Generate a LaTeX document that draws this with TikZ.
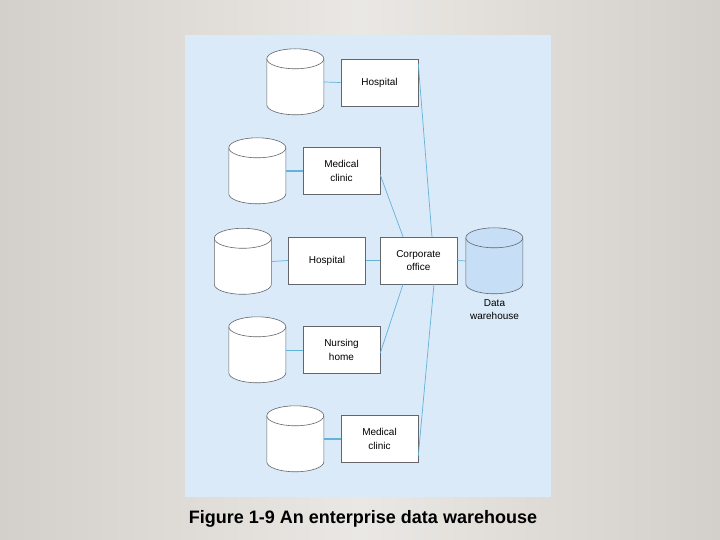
\documentclass[tikz,border=0pt]{standalone}
\usepackage{fontspec}
\setmainfont{Liberation Sans}
\usetikzlibrary{positioning, shadows}
\definecolor{panel}{HTML}{DBEAF8}
\definecolor{link}{HTML}{62B2DA}
\definecolor{dwfill}{HTML}{C6DEF6}
\definecolor{edge}{HTML}{63676C}
\definecolor{bgout}{HTML}{D3CFCA}
\definecolor{bgin}{HTML}{EAE8E4}

% cylinder outline round a placed node: #1 node name, #2 fill colour
\newcommand{\dbcyl}[2]{%
	\draw[draw=edge, line width=0.6pt, fill=#2] (#1.north west) ++(0,-10) -- ++(0,-46)
		arc[start angle=180, end angle=360, x radius=28.5, y radius=10] -- ++(0,46)
		arc[start angle=0, end angle=180, x radius=28.5, y radius=10] -- cycle;
	\draw[draw=edge, line width=0.6pt] (#1.north west) ++(0,-10)
		arc[start angle=180, end angle=360, x radius=28.5, y radius=10];
}

\begin{document}
\begin{tikzpicture}
	[x=1pt, y=1pt,
	 bx/.style={draw=edge, line width=0.6pt, fill=white, rectangle, align=center, font=\fontsize{10}{13.5}\selectfont,
	                    minimum width=77pt, minimum height=47pt, inner sep=1pt,
	                    drop shadow={shadow xshift=0.7pt, shadow yshift=-0.9pt, fill=gray!60, opacity=1}},
	 db/.style={rectangle, minimum width=57pt, minimum height=66pt, inner sep=0pt},
	 lnk/.style={draw=link, line width=0.7pt}]
	% background and panel
	\useasboundingbox (0,0) rectangle (720,-540);
	\shade[left color=bgout, right color=bgout, middle color=bgin] (0,0) rectangle (720,-540);
	\fill[panel] (185,-35) rectangle (551,-497);

	% long line behind the corporate box
	\coordinate (m1) at (432,-237);
	\coordinate (m2) at (434,-284);

	\node[db] (c1) at (295.5,-82) {};
	\node[db] (c2) at (257.5,-171) {};
	\node[db] (c3) at (243,-261.5) {};
	\node[db] (c4) at (257.5,-350) {};
	\node[db] (c5) at (295.5,-439) {};
	\node[db] (dw) at (494.5,-261) {};
	\dbcyl{c1}{white}
	\dbcyl{c2}{white}
	\dbcyl{c3}{white}
	\dbcyl{c4}{white}
	\dbcyl{c5}{white}
	\dbcyl{dw}{dwfill}
	\node[font=\fontsize{10}{12.5}\selectfont, align=center, below=2pt of dw] (dwl) {Data\\warehouse};

	\node[bx] (h1) at (379.5,-82.5) {Hospital};
	\node[bx] (m3) at (341.5,-171) {Medical\\clinic};
	\node[bx] (h2) at (327,-260.5) {Hospital};
	\node[bx] (co) at (418.5,-260.5) {Corporate\\office};
	\node[bx] (nh) at (341.5,-350) {Nursing\\home};
	\node[bx] (m5) at (379.5,-439) {Medical\\clinic};

	\draw[lnk] (c1.east) -- (h1.west);
	\draw[lnk, line width=1.4pt] (c2.east) -- (m3.west);
	\draw[lnk] (c3.east) -- (h2.west);
	\draw[lnk] (c4.east) -- (nh.west);
	\draw[lnk, line width=1.4pt] (c5.east) -- (m5.west);
	\draw[lnk] (h2.east) -- (co.west);
	\draw[lnk] (co.east) -- (dw.west);
	\draw[lnk] ([yshift=-5pt]h1.north east) -- (m1);
	\draw[lnk] ([yshift=7pt]m5.south east) -- (m2);
	\draw[lnk] ([yshift=-4pt]m3.east) -- (co.north -| 403,0);
	\draw[lnk] ([yshift=-3pt]nh.east) -- (co.south -| 403,0);

	\node[font=\fontsize{18}{20}\selectfont\bfseries] (cap) at (363,-519) {Figure 1-9 An enterprise data warehouse};
\end{tikzpicture}
\end{document}
